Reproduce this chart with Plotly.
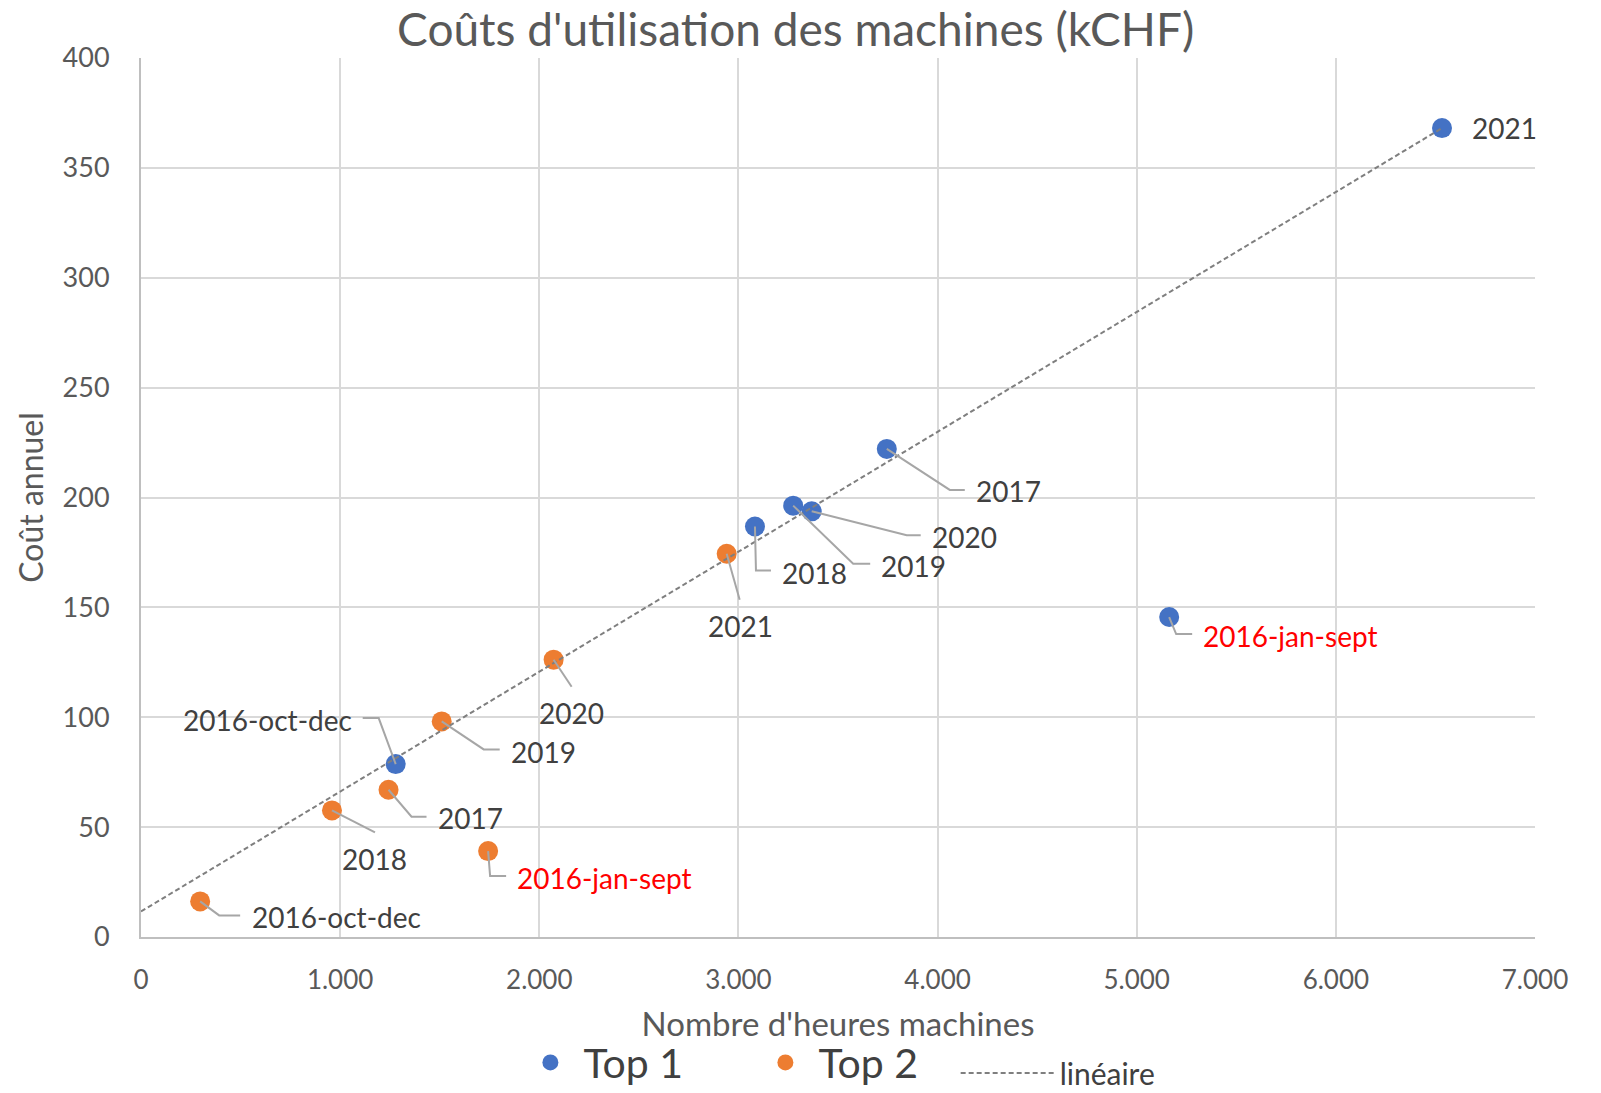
import plotly.graph_objects as go

# ---------------- data ----------------
top1_labels = ["2016-jan-sept", "2016-oct-dec", "2017", "2018", "2019", "2020", "2021"]
top1_hours = [5163, 1279, 3745, 3083, 3275, 3368, 6533]
top1_cost = [145.6, 78.7, 222.1, 186.8, 196.3, 193.7, 368.1]

top2_labels = ["2016-jan-sept", "2016-oct-dec", "2017", "2018", "2019", "2020", "2021"]
top2_hours = [1743, 297, 1243, 959, 1510, 2072, 2941]
top2_cost = [39.1, 16.2, 67.0, 57.6, 98.1, 126.2, 174.4]

trend_hours = [0, 6533]
trend_cost = [11.6, 368.1]

x_ticks = [0, 1000, 2000, 3000, 4000, 5000, 6000, 7000]
y_ticks = [0, 50, 100, 150, 200, 250, 300, 350, 400]

# ---------------- geometry / styles ----------------
W, H = 1601, 1093
ML, MR, MT, MB = 141, 66, 58, 156
PW, PH = W - ML - MR, H - MT - MB
XMAX, YMAX = 7000, 400
px_x = XMAX / PW          # data units per pixel (x)
px_y = YMAX / PH          # data units per pixel (y)

FONT = "Lato"
BLUE, ORANGE = "#4472C4", "#ED7D31"
LBL, AXC, LEAD, RED = "#404040", "#595959", "#A6A6A6", "#FF0000"

# label placement (pixel offsets from the point: leader path, text anchor)
# path: list of (dx, dy) pixel offsets (dy downward), text: (dx, dy, xanchor)
top1_place = {
    "2021": ([], (28, 0, "left")),
    "2017": ([(0, 0), (63, 41), (78, 41)], (87, 42, "left")),
    "2020": ([(0, 0), (95, 24), (109, 24)], (118, 26, "left")),
    "2019": ([(0, 0), (60, 58), (77, 58)], (86, 60, "left")),
    "2018": ([(0, 0), (1, 44), (16, 44)], (25, 46, "left")),
    "2016-jan-sept": ([(0, 0), (7, 17), (23, 17)], (32, 19, "left")),
    "2016-oct-dec": ([(0, 0), (-17, -46), (-33, -46)], (-42, -44, "right")),
}
top2_place = {
    "2021": ([(0, 0), (13, 46)], (14, 72, "center")),
    "2020": ([(0, 0), (18, 27)], (18, 53, "center")),
    "2019": ([(0, 0), (42, 28), (58, 28)], (67, 31, "left")),
    "2017": ([(0, 0), (23, 27), (38, 27)], (47, 28, "left")),
    "2018": ([(0, 0), (43, 22)], (43, 49, "center")),
    "2016-jan-sept": ([(0, 0), (2, 25), (18, 25)], (27, 27, "left")),
    "2016-oct-dec": ([(0, 0), (19, 14), (40, 14)], (50, 16, "left")),
}

fig = go.Figure()

# series markers
fig.add_trace(go.Scatter(
    x=top1_hours, y=top1_cost, mode="markers", name="Top 1",
    text=top1_labels, marker=dict(color=BLUE, size=20), legend="legend",
))
fig.add_trace(go.Scatter(
    x=top2_hours, y=top2_cost, mode="markers", name="Top 2",
    text=top2_labels, marker=dict(color=ORANGE, size=20), legend="legend",
))

# trend line
fig.add_trace(go.Scatter(
    x=trend_hours, y=trend_cost, mode="lines", name="linéaire",
    line=dict(color="#7F7F7F", width=2, dash="5px,3px"),
    hoverinfo="skip", legend="legend2",
))

annotations = []


def add_labels(labels, xs, ys, place):
    lx, ly = [], []
    for lab, x, y in zip(labels, xs, ys):
        path, (tdx, tdy, anchor) = place[lab]
        if path:
            for dx, dy in path:
                lx.append(x + dx * px_x)
                ly.append(y - dy * px_y)
            lx.append(None)
            ly.append(None)
        color = RED if lab == "2016-jan-sept" else LBL
        annotations.append(dict(
            x=x, y=y, xref="x", yref="y", text=lab, showarrow=False,
            xshift=tdx, yshift=-tdy, xanchor=anchor, yanchor="middle",
            font=dict(family=FONT, size=28, color=color),
        ))
    fig.add_trace(go.Scatter(
        x=lx, y=ly, mode="lines", line=dict(color=LEAD, width=2),
        showlegend=False, hoverinfo="skip",
    ))


add_labels(top1_labels, top1_hours, top1_cost, top1_place)
add_labels(top2_labels, top2_hours, top2_cost, top2_place)

fig.update_layout(
    width=W, height=H,
    margin=dict(l=ML, r=MR, t=MT, b=MB, autoexpand=False),
    paper_bgcolor="white", plot_bgcolor="white",
    separators=",.",
    font=dict(family=FONT, color=AXC),
    title=dict(
        text="Coûts d'utilisation des machines (kCHF)",
        x=0.497, xref="container", xanchor="center",
        y=0.9726, yref="container", yanchor="middle",
        font=dict(family=FONT, size=46, color=AXC),
    ),
    xaxis=dict(
        range=[0, XMAX], tickvals=x_ticks, tickformat=",d",
        showgrid=True, gridcolor="#D9D9D9", gridwidth=2,
        showline=True, linecolor="#BFBFBF", linewidth=2,
        zeroline=False, ticks="", ticklabelstandoff=19, automargin=False,
        tickfont=dict(family=FONT, size=26, color=AXC),
        title=dict(text="Nombre d'heures machines", standoff=19,
                   font=dict(family=FONT, size=33, color=AXC)),
    ),
    yaxis=dict(
        range=[0, YMAX], tickvals=y_ticks,
        showgrid=True, gridcolor="#D9D9D9", gridwidth=2,
        showline=True, linecolor="#BFBFBF", linewidth=2,
        zeroline=False, ticks="", ticklabelstandoff=24, automargin=False,
        tickfont=dict(family=FONT, size=27, color=AXC),
        title=dict(text="Coût annuel", standoff=9,
                   font=dict(family=FONT, size=32, color=AXC)),
    ),
    legend=dict(
        orientation="h", x=0.27, xanchor="left", y=-0.105, yanchor="top",
        entrywidth=164, entrywidthmode="pixels", itemwidth=56,
        font=dict(family=FONT, size=41, color=LBL),
        bgcolor="rgba(0,0,0,0)",
    ),
    legend2=dict(
        orientation="h", x=0.5844, xanchor="left", y=-0.125, yanchor="top",
        itemwidth=94,
        font=dict(family=FONT, size=30, color=LBL),
        bgcolor="rgba(0,0,0,0)",
    ),
    annotations=annotations,
    showlegend=True,
)

fig.write_html("out.html", config={"displayModeBar": False},
               post_script="document.body.style.margin='0px';")
